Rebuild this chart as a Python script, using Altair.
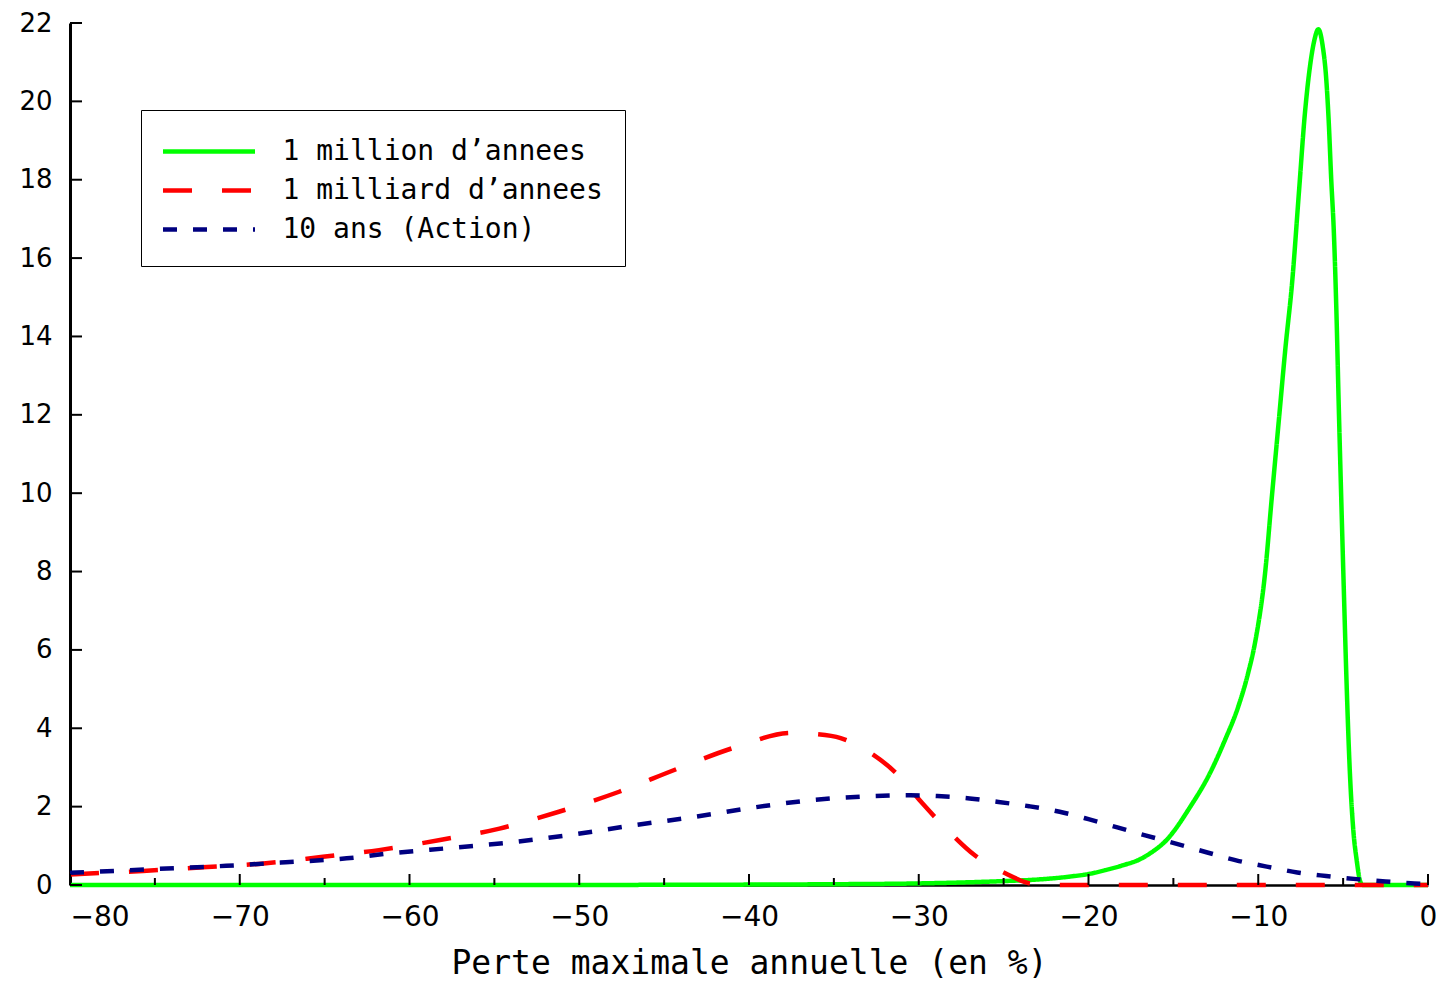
import altair as alt
import pandas as pd

# ---------------- data ----------------
series_names = ["1 million d\u2019annees", "1 milliard d\u2019annees", "10 ans (Action)"]
series_colors = ["#00ff00", "#ff0000", "#000080"]
series_dashes = [[1, 0], [29, 30], [14, 16]]

green_x = [-80, -50, -45, -40, -35, -30, -27, -25, -23, -21, -20, -19, -18, -17, -16.4,
           -15.4, -14.0, -12.85, -11.96, -11.18, -10.6, -10.14, -9.6, -9.2, -8.8,
           -8.4, -8.0, -7.6, -7.25, -6.95, -6.7, -6.46, -6.2, -6.0, -5.85, -5.7, -5.55,
           -5.4, -5.25, -5.1, -4.95, -4.8, -4.6, -4.4, -4.2, -4.0, -3.85, 0]
green_y = [0, 0, 0.005, 0.01, 0.02, 0.04, 0.07, 0.1, 0.14, 0.22, 0.28, 0.38, 0.5, 0.65, 0.8,
           1.15, 2.0, 2.85, 3.7, 4.55, 5.4, 6.3, 7.95, 9.9, 11.8,
           13.7, 15.4, 17.7, 19.7, 20.9, 21.55, 21.84, 21.4, 20.6, 19.5, 18.0, 16.7,
           14.7, 12.1, 9.7, 7.4, 5.2, 2.85, 1.4, 0.63, 0.1, 0, 0]

red_x = [-80, -75.7, -72.2, -68.6, -65.1, -61.8, -58.2, -54.7, -51.2, -47.65, -44.2,
         -40.7, -37.5, -36.0, -34.6, -32.8, -31.2, -29.8, -28.3, -26.7, -24.9, -23.3,
         -22, 0]
red_y = [0.27, 0.36, 0.45, 0.55, 0.72, 0.89, 1.15, 1.44, 1.87, 2.38, 2.97,
         3.53, 3.88, 3.85, 3.75, 3.36, 2.8, 2.09, 1.4, 0.76, 0.3, 0.03,
         0, 0]

blue_x = [-80, -74.3, -70.8, -67.3, -63.7, -61.3, -57.2, -53.8, -50.2, -46.7, -43.2,
          -39.7, -36.2, -32.7, -30.5, -28.9, -27.0, -25.3, -23.5, -21.7, -20.0, -18.3,
          -16.6, -14.8, -13.0, -11.3, -9.5, -7.7, -6.0, -4.2, -2.5, -0.8, 0]
blue_y = [0.31, 0.42, 0.49, 0.58, 0.68, 0.8, 0.96, 1.1, 1.3, 1.53, 1.74,
          1.98, 2.17, 2.27, 2.29, 2.27, 2.21, 2.12, 2.01, 1.87, 1.68, 1.47,
          1.26, 1.05, 0.83, 0.63, 0.47, 0.32, 0.23, 0.15, 0.09, 0.04, 0.03]

x_major_ticks = [-80, -70, -60, -50, -40, -30, -20, -10, 0]
x_minor_ticks = [-75, -65, -55, -45, -35, -25, -15, -5]
y_ticks = [0, 2, 4, 6, 8, 10, 12, 14, 16, 18, 20, 22]

# ---------------- tables ----------------
rows = []
for name, xs, ys in zip(series_names, [green_x, red_x, blue_x], [green_y, red_y, blue_y]):
    for i, (a, b) in enumerate(zip(xs, ys)):
        rows.append({"series": name, "x": a, "y": b, "i": i})
df = pd.DataFrame(rows)

df_xmaj = pd.DataFrame({"x": x_major_ticks})
df_xmin = pd.DataFrame({"x": x_minor_ticks})
df_y = pd.DataFrame({"y": y_ticks})

W, H = 1358, 862
x_scale = alt.Scale(domain=[-80, 0], nice=False, zero=False)
y_scale = alt.Scale(domain=[0, 22], nice=False, zero=False)

x_axis = alt.Axis(
    title="Perte maximale annuelle (en %)", values=x_major_ticks, ticks=False,
    grid=False, domainColor="black", domainWidth=2.5, labelFlush=False,
    labelAlign={"condition": {"test": "datum.value <= -80", "value": "left"}, "value": "center"},
    labelFont="DejaVu Sans", labelFontSize=28, labelColor="black", labelPadding=18,
    labelOverlap=False,
    titleFont="DejaVu Sans Mono", titleFontSize=33, titleFontWeight="normal",
    titleColor="black", titlePadding=16)
y_axis = alt.Axis(
    title=None, values=y_ticks, ticks=False, grid=False, domainColor="black",
    domainWidth=3, labelFlush=False, labelFont="DejaVu Sans", labelFontSize=26,
    labelColor="black", labelPadding=18, labelOverlap=False)

legend = alt.Legend(
    title=None, orient="none", legendX=71, legendY=87, padding=22,
    strokeColor="black", fillColor="white",
    symbolType="M-2.667,0H2.667", symbolSize=1190, symbolStrokeWidth=4.5,
    symbolOffset=26.5, labelOffset=54, rowPadding=5,
    labelFont="DejaVu Sans Mono", labelFontSize=28, labelColor="black", labelLimit=600,
)

lines = alt.Chart(df).mark_line(strokeWidth=4.5, interpolate="monotone", strokeCap="butt").encode(
    x=alt.X("x:Q", scale=x_scale, axis=x_axis),
    y=alt.Y("y:Q", scale=y_scale, axis=y_axis),
    color=alt.Color("series:N", scale=alt.Scale(domain=series_names, range=series_colors), legend=legend),
    strokeDash=alt.StrokeDash("series:N", scale=alt.Scale(domain=series_names, range=series_dashes), legend=legend),
    order=alt.Order("i:Q"),
)

xmaj = alt.Chart(df_xmaj).mark_rule(color="black", strokeWidth=2).encode(
    x=alt.X("x:Q", scale=x_scale, axis=x_axis), y=alt.value(H), y2=alt.value(H - 11))
xmin = alt.Chart(df_xmin).mark_rule(color="black", strokeWidth=2).encode(
    x=alt.X("x:Q", scale=x_scale, axis=x_axis), y=alt.value(H), y2=alt.value(H - 7))
yt = alt.Chart(df_y).mark_rule(color="black", strokeWidth=2).encode(
    y=alt.Y("y:Q", scale=y_scale, axis=y_axis), x=alt.value(0), x2=alt.value(12))

chart = alt.layer(lines, xmaj, xmin, yt).properties(
    width=W, height=H,
    padding={"left": 62, "top": 15, "right": 8, "bottom": 96},
    autosize=alt.AutoSizeParams(type="none"),
).configure_view(stroke="transparent")

chart.save("out.html", embed_options={"renderer": "svg", "actions": False})
